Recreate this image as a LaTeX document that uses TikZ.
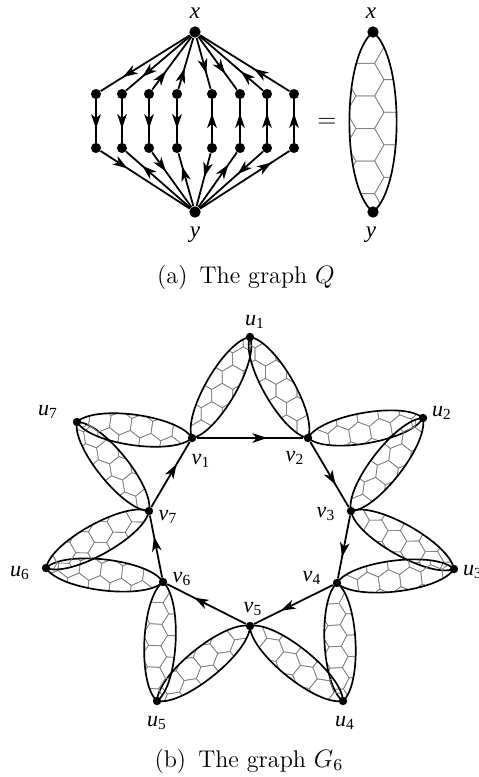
\documentclass[tikz,border=0pt]{standalone}
\usepackage{fontspec}
\newfontfamily\timesfont{Liberation Serif}
\usetikzlibrary{arrows.meta, decorations.markings, calc}
\pgfdeclarelayer{background}
\pgfsetlayers{background,main}

\tikzset{
  bigdot/.style={circle, fill, inner sep=0pt, minimum size=5.4pt},
  middot/.style={circle, fill, inner sep=0pt, minimum size=4.8pt},
  smalldot/.style={circle, fill, inner sep=0pt, minimum size=4pt},
  edge/.style={line width=0.85pt},
  arrowat/.style={edge, postaction={decorate},
    decoration={markings, mark=at position #1 with {\arrow{Stealth[length=7pt,width=4.6pt,inset=2pt]}}}},
  blob/.style={line width=0.8pt},
  hexline/.style={line width=0.3pt, black!50},
  qlab/.style={font=\timesfont\itshape\fontsize{11}{12}\selectfont, inner sep=1pt},
  glab/.style={font=\timesfont\itshape\fontsize{10.5}{12}\selectfont, inner sep=1pt},
  caption/.style={font=\fontsize{11.5}{14}\selectfont},
}

\newcommand\gl[2]{#1\textsubscript{\upshape #2}}
% a copy of Q drawn as a lens between two nodes
\newcommand\qblob[2]{%
  \path let \p1=($(#2)-(#1)$) in
    \pgfextra{\pgfmathsetmacro\blobang{atan2(\y1,\x1)}\xdef\blobang{\blobang}%
              \pgfmathsetmacro\bloblen{veclen(\x1,\y1)}\xdef\bloblen{\bloblen pt}};
  \begin{scope}[shift={(#1)}, rotate=\blobang, x=\bloblen, y=\bloblen]
    \begin{scope}
      \clip (0,0) .. controls (0.14,0.175) and (0.86,0.175) .. (1,0)
                  .. controls (0.86,-0.175) and (0.14,-0.175) .. (0,0) -- cycle;
      \foreach \j in {-1,0,1}
        \foreach \i in {-2,...,4} {
          \pgfmathsetmacro\hx{0.2645+0.181*\i+0.0905*mod(abs(\j),2)}
          \pgfmathsetmacro\hy{-0.043+0.156*\j}
          \draw[hexline] (\hx,\hy) ++(30:0.104) -- ++(150:0.104) -- ++(210:0.104)
            -- ++(270:0.104) -- ++(330:0.104) -- ++(30:0.104) -- cycle;
        }
    \end{scope}
    \draw[blob] (0,0) .. controls (0.14,0.175) and (0.86,0.175) .. (1,0)
                .. controls (0.86,-0.175) and (0.14,-0.175) .. (0,0) -- cycle;
  \end{scope}}

\begin{document}
\begin{tikzpicture}[x=0.476pt, y=-0.476pt]
  \useasboundingbox (0,0) rectangle (479,777);

  % the graph Q
  \node[bigdot] (qx) at (195,32) {};
  \node[bigdot] (qy) at (195,212) {};
  \node[qlab] (qxl) at (195,13) {x};
  \node[qlab] (qyl) at (195,235) {y};
  \foreach \c/\px in {1/96, 2/122, 3/149, 4/177, 5/212, 6/240, 7/267, 8/294} {
    \node[middot] (t\c) at (\px,94) {};
    \node[middot] (b\c) at (\px,148) {};
  }
  \foreach \c/\p in {1/0.75, 2/0.75, 5/0.7, 6/0.7}
    \draw[arrowat=\p] (qx) -- (t\c);
  \foreach \c/\p in {3/0.35, 4/0.4, 7/0.35, 8/0.4}
    \draw[arrowat=\p] (t\c) -- (qx);
  \foreach \c in {1,...,4}
    \draw[arrowat=0.68] (t\c) -- (b\c);
  \foreach \c in {5,...,8}
    \draw[arrowat=0.68] (b\c) -- (t\c);
  \foreach \c/\p in {1/0.3, 3/0.35, 5/0.45, 7/0.4}
    \draw[arrowat=\p] (b\c) -- (qy);
  \foreach \c/\p in {2/0.75, 4/0.75, 6/0.78, 8/0.8}
    \draw[arrowat=\p] (qy) -- (b\c);

  \node[caption] (eq) at (327,123) {$=$};

  % Q as a lens
  \node[bigdot] (lx) at (373,32) {};
  \node[bigdot] (ly) at (373,212) {};
  \node[qlab] (lxl) at (371,13) {x};
  \node[qlab] (lyl) at (371,235) {y};
  \begin{pgfonlayer}{background}
    \qblob{lx}{ly}
  \end{pgfonlayer}

  \node[caption] (capa) at (246,277) {(a)\enspace The graph $Q$};

  % the graph G_6
  \foreach \k/\px/\py in {1/192/438, 2/308/438, 3/351/511, 4/337/583,
                          5/250/626, 6/163/582, 7/149/511}
    \node[smalldot] (v\k) at (\px,\py) {};
  \foreach \k/\px/\py in {1/250/337, 2/423/418, 3/454/569, 4/343/701,
                          5/157/701, 6/46/568, 7/77/422}
    \node[smalldot] (u\k) at (\px,\py) {};

  \node[glab] (ul1) at (255,322) {\gl{u}{1}};
  \node[glab] (ul2) at (442,413) {\gl{u}{2}};
  \node[glab] (ul3) at (473,572) {\gl{u}{3}};
  \node[glab] (ul4) at (345,723) {\gl{u}{4}};
  \node[glab] (ul5) at (157,723) {\gl{u}{5}};
  \node[glab] (ul6) at (20,573) {\gl{u}{6}};
  \node[glab] (ul7) at (48,412) {\gl{u}{7}};
  \node[glab] (vl1) at (201,461) {\gl{v}{1}};
  \node[glab] (vl2) at (295,458) {\gl{v}{2}};
  \node[glab] (vl3) at (326,514) {\gl{v}{3}};
  \node[glab] (vl4) at (312,578) {\gl{v}{4}};
  \node[glab] (vl5) at (253,609) {\gl{v}{5}};
  \node[glab] (vl6) at (182,579) {\gl{v}{6}};
  \node[glab] (vl7) at (168,517) {\gl{v}{7}};

  \begin{pgfonlayer}{background}
    \foreach \k/\a/\b in {1/1/2, 2/2/3, 3/3/4, 4/4/5, 5/5/6, 6/6/7, 7/7/1} {
      \qblob{v\a}{u\k}
      \qblob{v\b}{u\k}
    }
  \end{pgfonlayer}
  \foreach \a/\b in {1/2, 2/3, 3/4, 4/5, 5/6, 6/7, 7/1}
    \draw[arrowat=0.66] (v\a) -- (v\b);

  \node[caption] (capb) at (249,761) {(b)\enspace The graph $G_6$};
\end{tikzpicture}
\end{document}
